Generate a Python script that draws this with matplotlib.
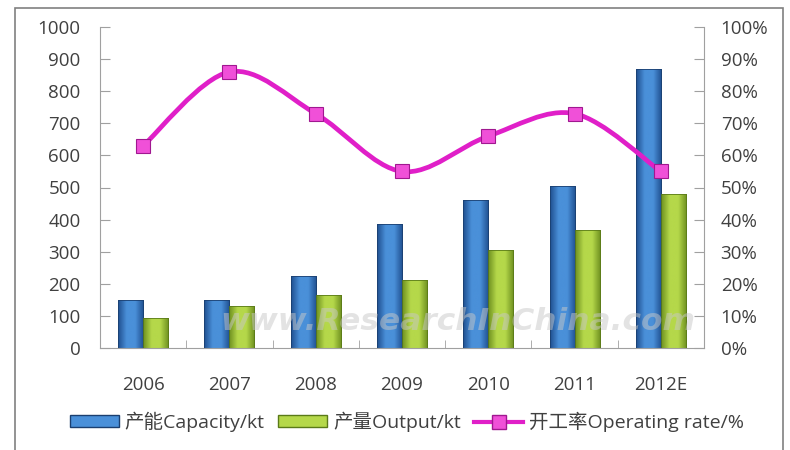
import matplotlib
matplotlib.use("Agg")
import matplotlib.pyplot as plt
import numpy as np
from matplotlib.patches import Rectangle
from matplotlib.lines import Line2D
from matplotlib.path import Path
from matplotlib.ticker import PercentFormatter

plt.rcParams['font.family'] = ['Open Sans', 'Noto Sans CJK SC', 'DejaVu Sans']

years = ["2006", "2007", "2008", "2009", "2010", "2011", "2012E"]
capacity = [150, 150, 225, 385, 460, 505, 870]
output = [95, 130, 165, 213, 305, 368, 480]
rate = [0.63, 0.86, 0.73, 0.55, 0.66, 0.73, 0.55]

lbl_cap = "产能Capacity/kt"
lbl_out = "产量Output/kt"
lbl_rate = "开工率Operating rate/%"

txt = "#404040"
blue_dark, blue_light = "#1f4f8f", "#4a90d9"
green_dark, green_light = "#6d8f1f", "#b5d84a"
pink = "#e01fc8"

fig = plt.figure(figsize=(7.9, 4.5), dpi=100)
fig.patches.append(Rectangle((15 / 790, -0.01), 768 / 790, 1 - 8 / 450 + 0.01,
                             transform=fig.transFigure, fill=False,
                             edgecolor="#808080", linewidth=1.2))
ax = fig.add_axes([100 / 790, 1 - 348 / 450, 604 / 790, 321 / 450])

x = np.arange(len(years))
w = 0.29


def gradient_bars(bars, dark, light):
    cm = matplotlib.colors.LinearSegmentedColormap.from_list("g", [dark, light, light, dark])
    grad = np.linspace(0, 1, 64).reshape(1, -1)
    for b in bars:
        x0, y0 = b.get_x(), b.get_y()
        im = ax.imshow(grad, extent=(x0, x0 + b.get_width(), y0, y0 + b.get_height()),
                       aspect="auto", cmap=cm, zorder=2, interpolation="bicubic")
        im.set_clip_path(b)
        b.set_facecolor("none")


b1 = ax.bar(x - w / 2, capacity, w, edgecolor="#1b3f70", linewidth=0.6, zorder=3)
b2 = ax.bar(x + w / 2, output, w, edgecolor="#5a7a18", linewidth=0.6, zorder=3)
gradient_bars(b1, blue_dark, blue_light)
gradient_bars(b2, green_dark, green_light)

ax.set_xlim(-0.5, len(years) - 0.5)
ax.set_ylim(0, 1000)
ax.set_yticks(range(0, 1001, 100))
ax.set_xticks(x)
ax.set_xticklabels(years)
ax.set_xticks(np.arange(-0.5, len(years)), minor=True)
ax.tick_params(axis="x", which="major", length=0, pad=20, labelsize=13.5, labelcolor=txt)
ax.tick_params(axis="x", which="minor", direction="in", length=6, color="#a0a0a0")
ax.tick_params(axis="y", direction="in", length=7, color="#a0a0a0", pad=14,
               labelsize=13.5, labelcolor=txt)
for s in ["top", "right"]:
    ax.spines[s].set_visible(False)
for s in ["left", "bottom"]:
    ax.spines[s].set_color("#a0a0a0")

ax2 = ax.twinx()
ax2.set_ylim(0, 1)
ax2.set_yticks(np.linspace(0, 1, 11))
ax2.yaxis.set_major_formatter(PercentFormatter(1.0, decimals=0))
ax2.tick_params(axis="y", direction="in", length=7, color="#a0a0a0", pad=12,
                labelsize=13.5, labelcolor=txt)
for s in ["top", "left", "bottom"]:
    ax2.spines[s].set_visible(False)
ax2.spines["right"].set_color("#a0a0a0")

# smoothed line like Excel (bezier through the points)
pts = np.column_stack([x, rate]).astype(float)
ext = np.vstack([pts[0], pts, pts[-1]])
verts = [tuple(pts[0])]
codes = [Path.MOVETO]
for i in range(len(pts) - 1):
    p0, p1, p2, p3 = ext[i], ext[i + 1], ext[i + 2], ext[i + 3]
    c1 = p1 + (p2 - p0) / 6
    c2 = p2 - (p3 - p1) / 6
    verts += [tuple(c1), tuple(c2), tuple(p2)]
    codes += [Path.CURVE4] * 3
path = Path(verts, codes)
ax2.add_patch(matplotlib.patches.PathPatch(path, fill=False, edgecolor=pink,
                                           linewidth=3.4, zorder=4))
ax2.plot(x, rate, linestyle="none", marker="s", markersize=10,
         markerfacecolor="#f050d8", markeredgecolor="#a01890", markeredgewidth=0.8, zorder=5)

fig.text(0.58, 1 - 322 / 450, "www.ResearchInChina.com", ha="center", va="center",
         fontsize=22.5, fontstyle="italic", fontweight="bold", color="#c8c8c8", alpha=0.5,
         family="DejaVu Sans")

handles = [
    Rectangle((0, 0), 1, 1, facecolor=blue_light, edgecolor="#1b3f70"),
    Rectangle((0, 0), 1, 1, facecolor=green_light, edgecolor="#5a7a18"),
    Line2D([], [], color=pink, linewidth=3, marker="s", markersize=10,
           markerfacecolor="#f050d8", markeredgecolor="#a01890"),
]
fig.legend(handles, [lbl_cap, lbl_out, lbl_rate], loc="center", ncol=3,
           bbox_to_anchor=(407 / 790, 1 - 422 / 450), frameon=False, fontsize=14,
           handlelength=2.5, handleheight=0.55, columnspacing=0.7, handletextpad=0.3,
           labelcolor=txt)

fig.savefig("out.png", dpi=100)
